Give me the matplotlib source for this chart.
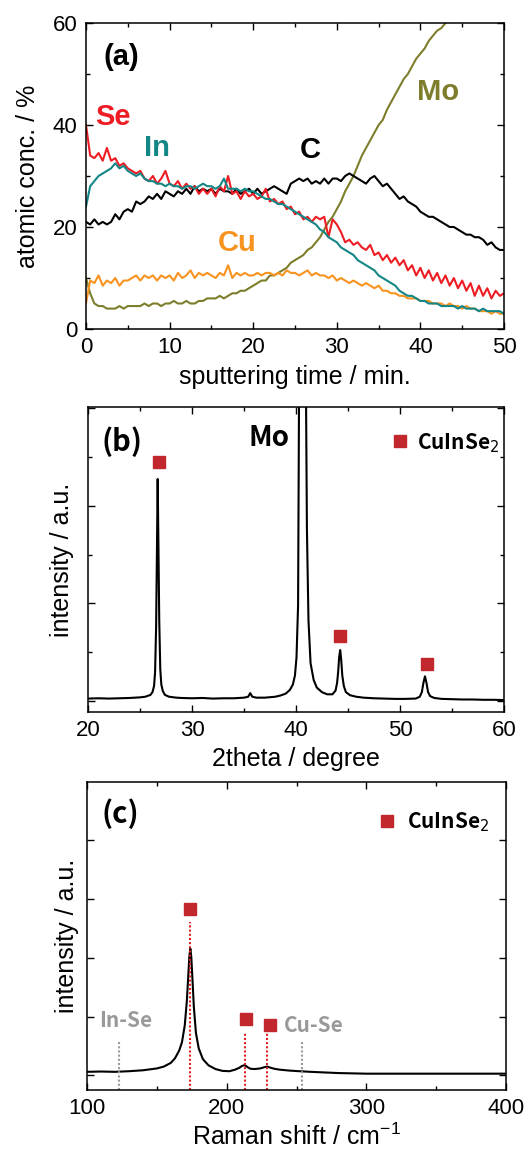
import numpy as np
import matplotlib
matplotlib.use("Agg")
import matplotlib.pyplot as plt
from matplotlib.ticker import MultipleLocator, FixedLocator, NullFormatter

plt.rcParams['font.family'] = ['Liberation Sans', 'DejaVu Sans']

# ---------------- Panel (a): depth profile ----------------
t_min = np.arange(0, 50.01, 0.5)

se = [40, 34, 33.5, 34.5, 33, 35.5, 33, 33.5, 32, 32.5,
      31.5, 31, 30.5, 31, 29.5, 29, 30, 28.5, 29.5, 31,
      28.5, 28, 29, 27.5, 28.5, 27.5, 28, 26.5, 27.5, 26.5,
      27.5, 26, 28, 27, 30, 26.5, 27, 25.5, 27, 26,
      26.5, 25.5, 26, 27.5, 25, 25.5, 24.5, 25, 23.5, 24,
      22.5, 23, 21.5, 22, 21, 22, 21.5, 22, 18, 21.5,
      20.5, 19, 17, 17.5, 16.5, 17, 16, 15.5, 16.5, 14.5,
      15, 13.5, 14.5, 13, 14, 12.5, 13.5, 11.5, 12.5, 10.5,
      12, 10, 11.5, 9.5, 11, 9, 10.5, 8.5, 10, 8,
      9.5, 7.5, 9, 6.5, 8.5, 6.5, 8, 6, 7.5, 6.5, 7]

in_ = [24, 28, 29, 30, 30.5, 31, 31.5, 32.5, 31.5, 32,
       31, 30.5, 30, 30.5, 29.5, 29, 29, 28.5, 28.5, 28,
       28.5, 28, 28, 27.5, 28, 28, 27.5, 28, 28.5, 28,
       28, 27.5, 28, 29.5, 27.5, 27.5, 27.5, 27, 27.5, 27,
       27, 26.5, 26, 25.5, 25.5, 25, 24.5, 24.5, 24, 23.5,
       23, 22.5, 22, 21.5, 21, 20.5, 19.5, 19, 18, 17.5,
       17, 16, 15.5, 15, 14.5, 13.5, 13, 12.5, 12, 11.5,
       10.5, 10, 9.5, 9, 8.5, 7.5, 7, 6.5, 6.5, 6,
       5.5, 5.5, 5, 5, 5, 4.5, 4.5, 4.5, 4.5, 4,
       4.5, 4, 4, 4, 3.5, 4, 3.5, 3.5, 3.5, 3.5, 3]

c = [21, 20.5, 21.5, 20.5, 21, 20.5, 21, 22.5, 21.5, 23,
     23.5, 23, 25, 24.5, 25, 26, 25.5, 26.5, 25.5, 27,
     26.5, 26, 27, 26.5, 27.5, 26.5, 28, 27, 27.5, 27,
     27.5, 26.5, 27.5, 27, 27, 26.5, 27.5, 26.5, 27, 27.5,
     26.5, 27.5, 26.5, 27, 27.5, 28, 27.5, 27, 26.5, 28.5,
     29, 29.5, 29, 29.5, 28.5, 29, 28.5, 29.5, 28.5, 29.5,
     29.5, 29, 30, 30.5, 30, 29.5, 29, 28.5, 29.5, 30,
     29, 28, 28.5, 27.5, 26.5, 25.5, 26, 25, 24.5, 24,
     23, 22.5, 22, 22, 21.5, 21, 20.5, 20, 20, 19.5,
     19, 18.5, 18.5, 18, 18, 17.5, 16.5, 17, 16, 15.5, 15.5]

cu = [5, 9.5, 9, 10.5, 8.5, 9.5, 9, 10, 8.5, 9.5,
      9.5, 10, 10.5, 9.5, 10.5, 10, 10.5, 9.5, 10.5, 10,
      10.5, 9.5, 11, 10, 10.5, 11.5, 10, 11, 10.5, 11,
      10.5, 10, 11, 10.5, 12.5, 10, 11, 10.5, 11, 10.5,
      10.5, 11, 10.5, 11, 11, 10.5, 11, 10.5, 11.5, 11,
      11, 10.5, 11, 11.5, 10.5, 11, 10.5, 10.5, 10, 10.5,
      9.5, 10, 9.5, 9, 9.5, 9, 8.5, 9, 8.5, 8,
      8.5, 7.5, 7.5, 7, 7, 6.5, 6.5, 6, 6, 6,
      5.5, 5.5, 5.5, 5, 5, 5, 4.5, 5, 4.5, 4.5,
      4, 4.5, 4, 4, 3.5, 3.5, 3.5, 3, 3.5, 3, 3]

mo = [10, 7, 5, 4.5, 4.5, 4, 4, 4, 4.5, 4,
      4.5, 4.5, 4.5, 4.5, 5, 4.5, 5, 5, 4.5, 5,
      5, 5.5, 5, 5, 5.5, 5, 5, 5.5, 5.5, 6,
      6, 6, 6.5, 6, 6.5, 7, 7, 7.5, 7.5, 8,
      8.5, 9, 9.5, 9.5, 10.5, 10.5, 11, 11.5, 12, 13,
      13.5, 14, 14.5, 15.5, 16, 17, 18, 19.5, 21, 22,
      23.5, 25, 27, 28.5, 30, 32, 34, 35.5, 37, 38.5,
      40, 41, 43, 44.5, 46, 47.5, 49, 50, 51.5, 53,
      54, 55, 56.5, 57.5, 58.5, 59, 60, 61, 62, 63.5,
      64, 65.5, 66, 67.5, 68, 69.5, 70, 71, 72.5, 73, 74]

# ---------------- Panel (b): XRD ----------------
xrd_2theta = [20, 21, 22, 23, 24, 25, 25.5, 26.0, 26.2, 26.35, 26.45, 26.55, 26.62,
              26.7, 26.78, 26.85, 26.95, 27.05, 27.2, 27.4, 27.8, 28.5, 29, 30, 31,
              32, 33, 34, 35, 35.4, 35.6, 35.8, 36.2, 37, 38, 38.5, 39.0, 39.4, 39.7,
              39.9, 40.05, 40.2, 40.3, 40.55, 40.95, 41.05, 41.2, 41.4, 41.7, 42.0,
              42.5, 43.0, 43.5, 43.8, 43.95, 44.05, 44.15, 44.25, 44.35, 44.45, 44.6,
              44.8, 45.2, 45.8, 46.5, 47.5, 48.5, 49.5, 50.5, 51.5, 51.9, 52.1, 52.25,
              52.4, 52.55, 52.7, 52.9, 53.3, 54, 55, 56, 57, 58, 59, 60]
xrd_int = [4.4, 4.5, 4.4, 4.5, 4.6, 4.8, 5.0, 5.6, 6.5, 8.5, 13, 28, 50,
           76.4, 52, 30, 14, 9, 6.8, 5.6, 5.0, 4.7, 4.6, 4.5, 4.6,
           4.4, 4.5, 4.5, 4.7, 5.0, 6.2, 5.0, 4.7, 4.7, 5.0, 5.4, 6.0, 7.2, 9.0,
           12, 18, 35, 110, 400, 110, 60, 30, 16, 10.5, 8,
           6.5, 5.8, 5.8, 7, 9.5, 13, 18, 20.3, 17, 12, 8.5,
           6.5, 5.5, 5.0, 4.7, 4.5, 4.4, 4.3, 4.3, 4.4, 5.0, 6.5, 9.5,
           11.7, 9.5, 6.5, 5.2, 4.6, 4.3, 4.2, 4.1, 4.1, 4.0, 4.0, 3.9]
xrd_mark_x = [26.8, 44.2, 52.6]
xrd_mark_y = [82, 25, 15.7]

# ---------------- Panel (c): Raman ----------------
raman_shift = [100, 110, 120, 130, 140, 150, 155, 160, 163, 166, 168, 170, 171.5,
               172.5, 173.3, 174, 174.7, 175.5, 176.5, 178, 180, 183, 187, 192,
               197, 202, 206, 209, 211, 213, 215, 217, 220, 224, 227, 229, 231,
               234, 238, 245, 252, 260, 270, 280, 290, 300, 320, 340, 360, 380, 400]
raman_int = [5.9, 6.0, 5.9, 6.1, 6.4, 7.0, 7.6, 8.8, 10.3, 12.8, 15.5, 21, 29,
             37, 43.5, 45.9, 43, 36, 27, 18.5, 13.5, 10, 8, 6.8,
             6.2, 6.1, 6.6, 7.2, 7.8, 8.1, 7.4, 6.9, 6.8, 7.0, 7.4, 7.6, 7.3,
             6.9, 6.6, 6.3, 6.1, 5.9, 5.7, 5.5, 5.4, 5.3, 5.3, 5.3, 5.3, 5.3, 5.3]
cis_raman_x = [174, 213, 229]
cis_line_top = [54.6, 18.4, 18.4]
cis_mark_x = [174, 214, 230.7]
cis_mark_y = [58.9, 23.2, 21.1]
sec_raman_x = [123, 254]
sec_line_top = [15.7, 15.7]
sec_labels = ['In-Se', 'Cu-Se']

W, H = 525, 1152
fig = plt.figure(figsize=(W / 100, H / 100), dpi=100)

def ax_rect(l, r, t, b):
    return [l / W, 1 - b / H, (r - l) / W, (b - t) / H]

def style(ax):
    for s in ax.spines.values():
        s.set_linewidth(1.1)
    ax.tick_params(which='both', direction='in', top=True, right=True,
                   labelsize=16, width=1.0, pad=6)
    ax.tick_params(which='major', length=5)
    ax.tick_params(which='minor', length=3)

label_font = 18
lab_kw = dict(fontsize=21, fontweight='bold')
cjk = ['Noto Sans CJK KR', 'DejaVu Sans']
red_sq = '#c1272d'

# (a)
ax1 = fig.add_axes(ax_rect(86, 504, 23, 329))
col_se, col_in, col_c, col_cu, col_mo = '#ee1c24', '#138686', '#000000', '#f7931e', '#7d7d2c'
ax1.plot(t_min, mo, color=col_mo, lw=1.5)
ax1.plot(t_min, cu, color=col_cu, lw=1.5)
ax1.plot(t_min, c, color=col_c, lw=1.5)
ax1.plot(t_min, se, color=col_se, lw=1.5)
ax1.plot(t_min, in_, color=col_in, lw=1.5)
ax1.set_xlim(0, 50)
ax1.set_ylim(0, 60)
ax1.xaxis.set_major_locator(MultipleLocator(10))
ax1.xaxis.set_minor_locator(MultipleLocator(5))
ax1.yaxis.set_major_locator(MultipleLocator(20))
ax1.yaxis.set_minor_locator(MultipleLocator(10))
style(ax1)
ax1.set_xlabel('sputtering time / min.', fontsize=label_font, labelpad=5)
ax1.set_ylabel('atomic conc. / %', fontsize=label_font, labelpad=9)
ax1.text(4.2, 53.4, '(a)', ha='center', va='center', **lab_kw)
ax1.text(3.2, 41.6, 'Se', color=col_se, ha='center', va='center', **lab_kw)
ax1.text(8.5, 35.5, 'In', color=col_in, ha='center', va='center', **lab_kw)
ax1.text(26.8, 35.0, 'C', color=col_c, ha='center', va='center', **lab_kw)
ax1.text(42.1, 46.5, 'Mo', color=col_mo, ha='center', va='center', **lab_kw)
ax1.text(18.1, 16.8, 'Cu', color=col_cu, ha='center', va='center', **lab_kw)

# (b)
ax2 = fig.add_axes(ax_rect(88, 504, 407, 712))
ax2.plot(xrd_2theta, xrd_int, color='black', lw=1.5)
ax2.plot(xrd_mark_x, xrd_mark_y, 's', color=red_sq, ms=8, ls='none')
ax2.plot([50.0], [88.7], 's', color=red_sq, ms=8)
ax2.text(51.6, 88.2, 'CuInSe$_2$', fontsize=15, fontweight='bold', family=cjk,
         ha='left', va='center')
ax2.text(37.4, 90, 'Mo', ha='center', va='center', fontsize=20, fontweight='bold', family=cjk)
ax2.text(23.3, 88.7, '(b)', ha='center', va='center', fontsize=21, fontweight='bold', family=cjk)
ax2.set_xlim(20, 60)
ax2.set_ylim(0, 100)
ax2.xaxis.set_major_locator(MultipleLocator(10))
ax2.xaxis.set_minor_locator(MultipleLocator(5))
ax2.yaxis.set_major_locator(FixedLocator([3.6, 35.6, 67.6, 99.6]))
ax2.yaxis.set_minor_locator(FixedLocator([19.6, 51.6, 83.6]))
ax2.yaxis.set_major_formatter(NullFormatter())
style(ax2)
ax2.set_xlabel('2theta / degree', fontsize=label_font, labelpad=4)
ax2.set_ylabel('intensity / a.u.', fontsize=label_font, labelpad=4)

# (c)
ax3 = fig.add_axes(ax_rect(87, 506, 782, 1090))
ax3.plot(raman_shift, raman_int, color='black', lw=1.5)
ax3.vlines(cis_raman_x, 0, cis_line_top, colors='#e02020', linestyles=(0, (1, 1)), lw=1.5)
ax3.vlines(sec_raman_x, 0, sec_line_top, colors='#999999', linestyles=(0, (1, 1)), lw=1.5)
ax3.plot(cis_mark_x, cis_mark_y, 's', color=red_sq, ms=9, ls='none')
ax3.plot([315], [87.4], 's', color=red_sq, ms=8)
ax3.text(329.4, 86.9, 'CuInSe$_2$', fontsize=15, fontweight='bold', family=cjk,
         ha='left', va='center')
ax3.text(127.4, 22.5, sec_labels[0], color='#999999', fontsize=15, fontweight='bold',
         family=cjk, ha='center', va='center')
ax3.text(262.2, 20.8, sec_labels[1], color='#999999', fontsize=15, fontweight='bold',
         family=cjk, ha='center', va='center')
ax3.text(124, 89.7, '(c)', ha='center', va='center', fontsize=21, fontweight='bold', family=cjk)
ax3.set_xlim(100, 400)
ax3.set_ylim(0, 100)
ax3.xaxis.set_major_locator(MultipleLocator(100))
ax3.xaxis.set_minor_locator(MultipleLocator(50))
ax3.yaxis.set_major_locator(FixedLocator([4.9, 23.7, 42.9, 61.9, 81.1]))
ax3.yaxis.set_major_formatter(NullFormatter())
style(ax3)
ax3.set_xlabel('Raman shift / cm$^{\\mathregular{-1}}$', fontsize=label_font, labelpad=3)
ax3.set_ylabel('intensity / a.u.', fontsize=label_font, labelpad=0)

fig.savefig('out.png', dpi=100)
